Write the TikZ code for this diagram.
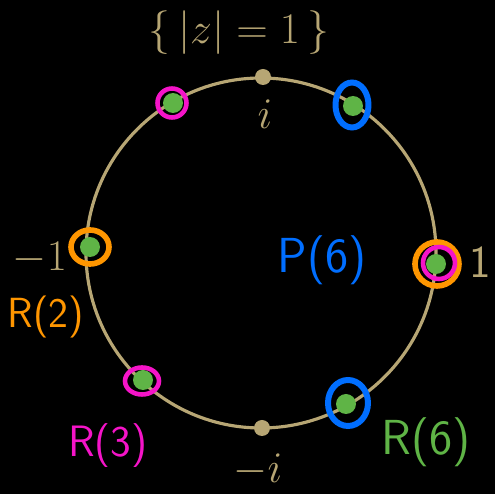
\documentclass[tikz,border=0pt]{standalone}
\usepackage{xcolor}
\usepackage{tikz}
\definecolor{tan}{RGB}{183,166,116}
\definecolor{ringorange}{RGB}{255,150,0}
\definecolor{ringpink}{RGB}{245,20,200}
\definecolor{ringblue}{RGB}{0,110,255}
\definecolor{rootgreen}{RGB}{95,180,70}
\newcommand{\hand}[1]{\fontsize{#1}{#1}\selectfont\sffamily}

\begin{document}
\begin{tikzpicture}[x=0.02cm, y=0.02cm]
  \fill[black] (0,0) rectangle (495,494);
  \useasboundingbox (0,0) rectangle (495,494);
  \draw[tan, line width=1.8pt] (261,241) circle (175);
  \node[circle, fill=tan, inner sep=0pt, minimum size=0.32cm] (top) at (263,417) {};
  \node[circle, fill=tan, inner sep=0pt, minimum size=0.32cm] (bottom) at (262,66) {};
  % roots of unity
  \foreach \x/\y [count=\k] in {436/230, 90/247, 173/391, 353/388, 143/114, 346/90}
    \node[circle, fill=rootgreen, inner sep=0pt, minimum size=0.4cm] (root\k) at (\x,\y) {};
  \draw[ringorange, line width=3.2pt] (437,230) circle (22);
  \draw[ringpink, line width=2.6pt] (439,231) circle (16);
  \draw[ringorange, line width=3.2pt] (90,247) ellipse (19 and 17);
  \draw[ringpink, line width=2.6pt] (172,391) circle (14.5);
  \draw[ringpink, line width=2.6pt] (142,113) ellipse (17 and 13.5);
  \draw[ringblue, line width=3.4pt] (352,389) ellipse (16.5 and 22.5);
  \draw[ringblue, line width=3.4pt] (348,91) ellipse (20 and 23);
  % labels
  \node[tan, font=\hand{25}] (unit) at (239,461) {$\{\,|z|=1\,\}$};
  \node[tan, font=\hand{26}] (ilabel) at (265,380) {$i$};
  \node[tan, font=\hand{26}] (milabel) at (258,24) {$-i$};
  \node[tan, font=\hand{26}] (mone) at (40,236) {$-1$};
  \node[tan, font=\hand{26}] (one) at (480,232) {1};
  \node[ringblue, font=\hand{28}] (P6) at (322,234) {P(6)};
  \node[ringorange, font=\hand{24}] (R2) at (46,177) {R(2)};
  \node[ringpink, font=\hand{25}] (R3) at (108,48) {R(3)};
  \node[rootgreen, font=\hand{28}] (R6) at (426,52) {R(6)};
\end{tikzpicture}
\end{document}
